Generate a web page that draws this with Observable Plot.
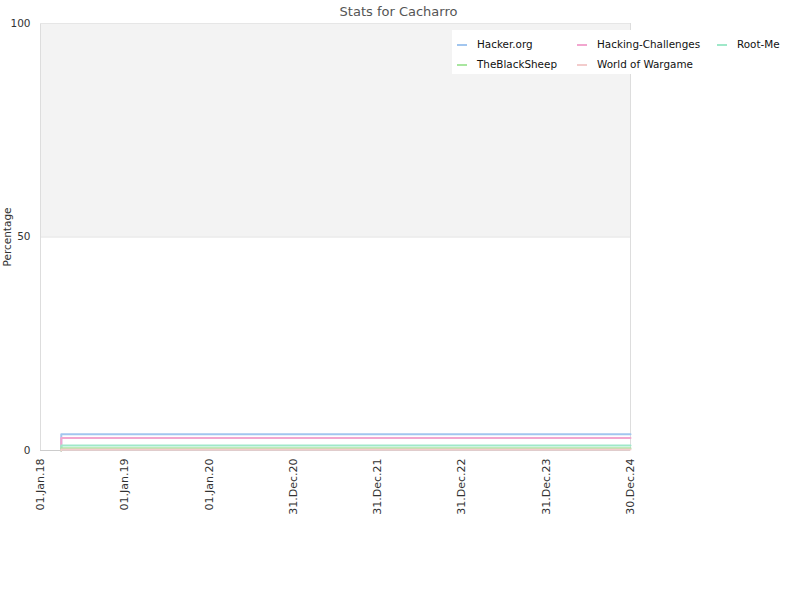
<!DOCTYPE html>
<html>
<head>
<meta charset="utf-8">
<script src="https://cdn.jsdelivr.net/npm/d3@7"></script>
<script src="https://cdn.jsdelivr.net/npm/@observablehq/plot@0.6"></script>
<style>
  body { margin: 0; background: #fff; font-family: "DejaVu Sans", sans-serif; }
  #wrap { position: relative; width: 800px; height: 600px; }
  #title { position: absolute; left: 0; width: 797px; top: 4px; text-align: center; font-size: 13px; color: #555; }
  #legend { position: absolute; left: 452px; top: 30px; width: 348px; height: 44px; background: #fff; font-size: 10.4px; color: #111; }
  .item { position: absolute; height: 14px; line-height: 14px; white-space: nowrap; }
  .sw { position: absolute; left: 0; top: 7px; width: 10px; height: 2px; }
  .lab { position: absolute; left: 20px; top: 0; }
</style>
</head>
<body>
<div id="wrap">
  <div id="chart"></div>
  <div id="title">Stats for Cacharro</div>
  <div id="legend"></div>
</div>
<script>
const series = ["Hacker.org", "Hacking-Challenges", "Root-Me", "TheBlackSheep", "World of Wargame"];
const values = [3.8, 2.9, 1.2, 0.55, 0.25];
const colors = ["#a2c6ef", "#f2a6cf", "#9fe8c9", "#a9e6a0", "#f3cccc"];
const legendOrder = ["Hacker.org", "Hacking-Challenges", "Root-Me", "TheBlackSheep", "World of Wargame"];
const startDate = "2018-04-01";
const endDate = "2024-12-30";
const tickDates = ["2018-01-01", "2019-01-01", "2020-01-01", "2020-12-31", "2021-12-31", "2022-12-31", "2023-12-31", "2024-12-30"];
const yTicks = [0, 50, 100];

const parse = d3.utcParse("%Y-%m-%d");
const rows = [];
series.forEach((s, i) => {
  rows.push({series: s, date: parse(startDate), value: 0});
  rows.push({series: s, date: parse(startDate), value: values[i]});
  rows.push({series: s, date: parse(endDate), value: values[i]});
});
const xDomain = [parse(tickDates[0]), parse(tickDates[tickDates.length - 1])];

const chart = Plot.plot({
  width: 800,
  height: 600,
  marginLeft: 40,
  marginRight: 170,
  marginTop: 23,
  marginBottom: 150,
  style: {fontFamily: "DejaVu Sans, sans-serif", fontSize: "11px", color: "#333", background: "#fff"},
  x: {type: "utc", domain: xDomain},
  y: {domain: [0, 100]},
  color: {domain: series, range: colors},
  marks: [
    Plot.rect([{x1: xDomain[0], x2: xDomain[1], y1: 50, y2: 100}], {x1: "x1", x2: "x2", y1: "y1", y2: "y2", fill: "#f3f3f3"}),
    Plot.ruleY([50], {stroke: "#e0e0e0"}),
    Plot.ruleX([xDomain[0], xDomain[1]], {stroke: "#dddddd"}),
    Plot.ruleY([100], {stroke: "#e6e6e6"}),
    Plot.ruleY([0], {stroke: "#cccccc"}),
    Plot.axisX({ticks: tickDates.map(parse), tickFormat: d3.utcFormat("%d.%b.%y"), tickRotate: -90, tickSize: 0, tickPadding: 8, label: null, fill: "#333"}),
    Plot.axisY({ticks: yTicks, tickSize: 0, tickPadding: 10, label: "Percentage", labelAnchor: "center", labelArrow: "none", fill: "#333", fontSize: 10.5}),
    Plot.line(rows, {x: "date", y: "value", z: "series", stroke: "series", strokeWidth: 2})
  ]
});
document.getElementById("chart").appendChild(chart);

const legend = document.getElementById("legend");
const colX = [5, 125, 265];
legendOrder.forEach((s, i) => {
  const col = i < 3 ? i : i - 3;
  const row = i < 3 ? 0 : 1;
  const item = document.createElement("div");
  item.className = "item";
  item.style.left = colX[col] + "px";
  item.style.top = (7 + row * 20) + "px";
  const sw = document.createElement("div");
  sw.className = "sw";
  sw.style.background = colors[series.indexOf(s)];
  const lab = document.createElement("div");
  lab.className = "lab";
  lab.textContent = s;
  item.appendChild(sw);
  item.appendChild(lab);
  legend.appendChild(item);
});
</script>
</body>
</html>
